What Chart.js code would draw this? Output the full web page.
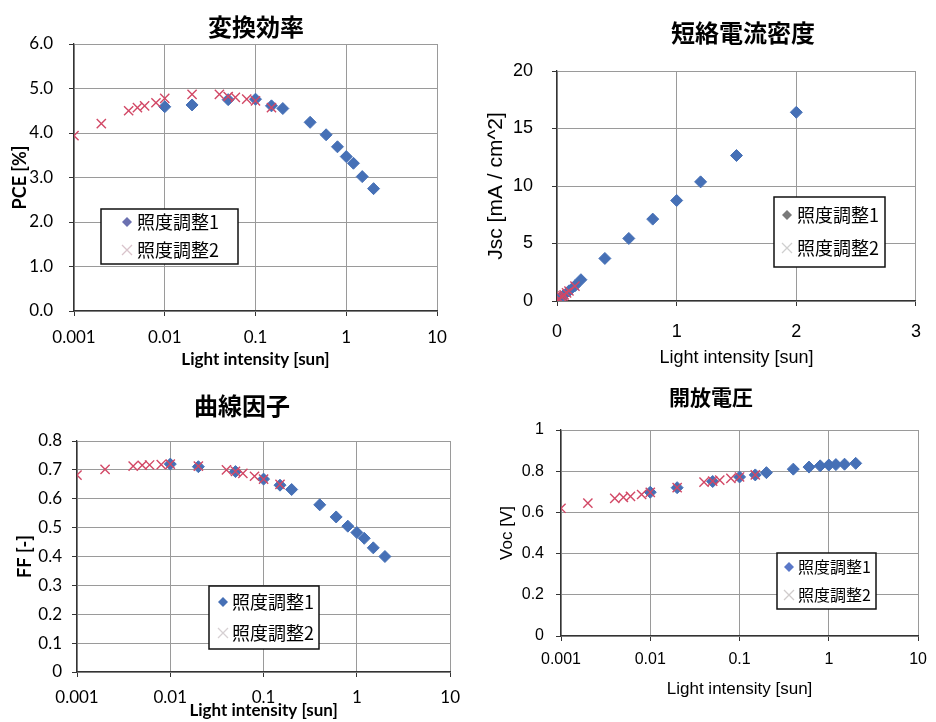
<!DOCTYPE html>
<html>
<head>
<meta charset="utf-8">
<title>照度依存性</title>
<script src="https://cdn.jsdelivr.net/npm/chart.js"></script>
<style>
  body { margin: 0; background: #fff; }
  #wrap { position: relative; width: 936px; height: 722px; overflow: hidden; }
  canvas { position: absolute; }
  #pceChart { left: 0; top: 0; }
  #jscChart { left: 470px; top: 0; }
  #ffChart { left: 0; top: 380px; }
  #vocChart { left: 470px; top: 380px; }
</style>
</head>
<body>
<div id="wrap">
  <canvas id="pceChart" width="470" height="370"></canvas>
  <canvas id="jscChart" width="466" height="370"></canvas>
  <canvas id="ffChart" width="470" height="342"></canvas>
  <canvas id="vocChart" width="466" height="342"></canvas>
</div>
<script>
// light intensity [sun]
const light1 = [0.01, 0.02, 0.05, 0.1, 0.15, 0.2, 0.4, 0.6, 0.8, 1, 1.2, 1.5, 2];
const light2 = [0.001, 0.002, 0.004, 0.005, 0.006, 0.008, 0.01, 0.02, 0.04, 0.05, 0.06, 0.08, 0.1, 0.15];

// 照度調整1 (diamonds)
const pce1 = [4.59, 4.63, 4.75, 4.76, 4.61, 4.55, 4.24, 3.96, 3.69, 3.47, 3.32, 3.02, 2.75];
const jsc1 = [0.09, 0.18, 0.44, 0.88, 1.32, 1.85, 3.7, 5.44, 7.12, 8.74, 10.36, 12.65, 16.41];
const ff1 = [0.72, 0.711, 0.694, 0.668, 0.647, 0.632, 0.579, 0.537, 0.505, 0.483, 0.463, 0.43, 0.4];
const voc1 = [0.698, 0.72, 0.75, 0.772, 0.782, 0.793, 0.81, 0.82, 0.826, 0.83, 0.832, 0.834, 0.838];

// 照度調整2 (crosses)
const pce2 = [3.94, 4.21, 4.5, 4.57, 4.61, 4.68, 4.78, 4.87, 4.87, 4.82, 4.8, 4.76, 4.72, 4.57];
const jsc2 = [0.009, 0.018, 0.035, 0.044, 0.053, 0.07, 0.088, 0.176, 0.35, 0.44, 0.53, 0.7, 0.87, 1.3];
const ff2 = [0.682, 0.702, 0.713, 0.716, 0.717, 0.718, 0.72, 0.713, 0.7, 0.695, 0.688, 0.678, 0.668, 0.65];
const voc2 = [0.62, 0.645, 0.668, 0.673, 0.678, 0.687, 0.697, 0.72, 0.747, 0.752, 0.757, 0.765, 0.772, 0.782];

const seriesNames = ['照度調整1', '照度調整2'];
const logTicks = [0.001, 0.01, 0.1, 1, 10];

const BLUE = '#4670b6';
const RED = '#d24866';
const GRID = '#9a9a9a';
const AXIS = '#333';
const CJK = '"Noto Sans CJK JP", sans-serif';
const CAL = 'Lato, sans-serif';
const ARIAL = '"Liberation Sans", Arial, sans-serif';

const pts = (xs, ys) => xs.map((x, i) => ({ x: x, y: ys[i] }));

// chart heading drawn where the original had it (not always centred on the plot)
const headingPlugin = {
  id: 'heading',
  afterDraw(chart, args, o) {
    const ctx = chart.ctx;
    ctx.save();
    ctx.font = o.font;
    ctx.fillStyle = '#000';
    ctx.textAlign = 'center';
    ctx.textBaseline = 'middle';
    ctx.fillText(o.text, o.x, o.y);
    ctx.restore();
  }
};

// boxed legend sitting inside the plot area, Excel style
const boxLegendPlugin = {
  id: 'boxLegend',
  afterDatasetsDraw(chart, args, o) {
    const ctx = chart.ctx;
    ctx.save();
    ctx.fillStyle = '#fff';
    ctx.fillRect(o.x, o.y, o.w, o.h);
    ctx.strokeStyle = '#111';
    ctx.lineWidth = 1.5;
    ctx.strokeRect(o.x, o.y, o.w, o.h);
    ctx.font = o.font;
    ctx.textAlign = 'left';
    ctx.textBaseline = 'middle';
    chart.data.datasets.forEach((ds, i) => {
      const cy = o.rows[i];
      const mx = o.markerX;
      const r = 5;
      ctx.fillStyle = o.markerColors[i];
      ctx.strokeStyle = o.markerColors[i];
      ctx.beginPath();
      if (ds.pointStyle === 'rectRot') {
        ctx.moveTo(mx, cy - r);
        ctx.lineTo(mx + r, cy);
        ctx.lineTo(mx, cy + r);
        ctx.lineTo(mx - r, cy);
        ctx.closePath();
        ctx.fill();
      } else {
        ctx.lineWidth = 1.3;
        ctx.moveTo(mx - r, cy - r);
        ctx.lineTo(mx + r, cy + r);
        ctx.moveTo(mx + r, cy - r);
        ctx.lineTo(mx - r, cy + r);
        ctx.stroke();
      }
      ctx.fillStyle = '#000';
      ctx.fillText(ds.label, o.textX, cy);
    });
    ctx.restore();
  }
};

function makeChart(id, c) {
  const xScale = {
    type: c.xType,
    min: c.xMin,
    max: c.xMax,
    afterFit: s => { s.height = c.xHeight; },
    ticks: {
      font: { family: c.tickFamily, size: c.tickSize },
      color: '#000',
      padding: c.xTickPad,
      callback: v => String(v)
    },
    grid: { color: GRID, tickColor: AXIS, tickLength: 5 },
    border: { color: AXIS, width: 1.3 },
    title: {
      display: true,
      text: 'Light intensity [sun]',
      color: '#000',
      font: { family: c.titleFamily, size: c.xTitleSize, weight: c.titleWeight },
      padding: { top: 0, bottom: c.xTitlePad }
    }
  };
  if (c.xType === 'logarithmic') {
    xScale.afterBuildTicks = s => { s.ticks = logTicks.map(v => ({ value: v })); };
  } else {
    xScale.ticks.stepSize = c.xStep;
  }

  return new Chart(document.getElementById(id), {
    type: 'scatter',
    data: {
      datasets: [
        {
          label: seriesNames[0],
          data: pts(light1, c.y1),
          pointStyle: 'rectRot',
          pointRadius: 6,
          backgroundColor: BLUE,
          borderColor: BLUE,
          borderWidth: 1,
          order: 1
        },
        {
          label: seriesNames[1],
          data: pts(light2, c.y2),
          pointStyle: 'crossRot',
          pointRadius: 6.5,
          borderColor: RED,
          backgroundColor: RED,
          borderWidth: 1.4,
          order: 0
        }
      ]
    },
    options: {
      responsive: false,
      animation: false,
      layout: { padding: { left: 0, top: c.top, right: c.right, bottom: 0 } },
      plugins: {
        legend: { display: false },
        tooltip: { enabled: false },
        heading: c.heading,
        boxLegend: c.legend
      },
      scales: {
        x: xScale,
        y: {
          min: c.yMin,
          max: c.yMax,
          afterFit: s => { s.width = c.yWidth; },
          ticks: {
            stepSize: c.yStep,
            font: { family: c.tickFamily, size: c.tickSize },
            color: '#000',
            padding: c.yTickPad,
            callback: c.yFormat
          },
          grid: { color: GRID, tickColor: AXIS, tickLength: 5 },
          border: { color: AXIS, width: 1.3 },
          title: {
            display: true,
            text: c.yTitle,
            color: '#000',
            font: { family: c.titleFamily, size: c.yTitleSize, weight: c.titleWeight },
            padding: { top: c.yTitlePad, bottom: 0 }
          }
        }
      }
    },
    plugins: [headingPlugin, boxLegendPlugin]
  });
}

// 変換効率
makeChart('pceChart', {
  y1: pce1, y2: pce2,
  xType: 'logarithmic', xMin: 0.001, xMax: 10,
  yMin: 0, yMax: 6, yStep: 1, yFormat: v => v.toFixed(1),
  top: 44, right: 33, yWidth: 74, xHeight: 59,
  tickFamily: CAL, tickSize: 17, xTickPad: 11, yTickPad: 16,
  titleFamily: CAL, titleWeight: 'bold', xTitleSize: 17, yTitleSize: 18,
  xTitlePad: 0, yTitlePad: 9, yTitle: 'PCE [%]',
  heading: { text: '変換効率', x: 256, y: 27, font: 'bold 24px ' + CJK },
  legend: { x: 101, y: 209, w: 137, h: 55, rows: [222, 250], markerX: 127, textX: 137,
    font: '18px ' + CJK, markerColors: ['#6b70b0', '#d9c3cb'] }
});

// 短絡電流密度
makeChart('jscChart', {
  y1: jsc1, y2: jsc2,
  xType: 'linear', xMin: 0, xMax: 3, xStep: 1,
  yMin: 0, yMax: 20, yStep: 5, yFormat: v => String(v),
  top: 71, right: 13, yWidth: 87, xHeight: 69,
  tickFamily: ARIAL, tickSize: 18, xTickPad: 15, yTickPad: 19,
  titleFamily: ARIAL, titleWeight: 'normal', xTitleSize: 18, yTitleSize: 21,
  xTitlePad: 1, yTitlePad: 14, yTitle: 'Jsc [mA / cm^2]',
  heading: { text: '短絡電流密度', x: 273, y: 33, font: 'bold 24px ' + CJK },
  legend: { x: 304, y: 197, w: 111, h: 70, rows: [215, 248], markerX: 317, textX: 327,
    font: '18px ' + CJK, markerColors: ['#7a7a7a', '#cfcfcf'] }
});

// 曲線因子
makeChart('ffChart', {
  y1: ff1, y2: ff2,
  xType: 'logarithmic', xMin: 0.001, xMax: 10,
  yMin: 0, yMax: 0.8, yStep: 0.1, yFormat: v => String(Math.round(v * 10) / 10),
  top: 61, right: 15, yWidth: 77, xHeight: 50,
  tickFamily: CAL, tickSize: 17, xTickPad: 10, yTickPad: 10,
  titleFamily: CAL, titleWeight: 'bold', xTitleSize: 17, yTitleSize: 18,
  xTitlePad: 1, yTitlePad: 14, yTitle: 'FF [-]',
  heading: { text: '曲線因子', x: 242, y: 26, font: 'bold 24px ' + CJK },
  legend: { x: 209, y: 206, w: 110, h: 63, rows: [222, 253], markerX: 223, textX: 232,
    font: '18px ' + CJK, markerColors: [BLUE, '#d6d0d3'] }
});

// 開放電圧
makeChart('vocChart', {
  y1: voc1, y2: voc2,
  xType: 'logarithmic', xMin: 0.001, xMax: 10,
  yMin: 0, yMax: 1, yStep: 0.2, yFormat: v => String(Math.round(v * 10) / 10),
  top: 50, right: 12, yWidth: 91, xHeight: 86,
  tickFamily: ARIAL, tickSize: 16, xTickPad: 9, yTickPad: 12,
  titleFamily: ARIAL, titleWeight: 'normal', xTitleSize: 17, yTitleSize: 17,
  xTitlePad: 22, yTitlePad: 27, yTitle: 'Voc [V]',
  heading: { text: '開放電圧', x: 241, y: 17, font: 'bold 21px ' + CJK },
  legend: { x: 307, y: 173, w: 99, h: 56, rows: [187, 215], markerX: 319, textX: 328,
    font: '16px ' + CJK, markerColors: ['#5a78c8', '#d0cccc'] }
});
</script>
</body>
</html>
